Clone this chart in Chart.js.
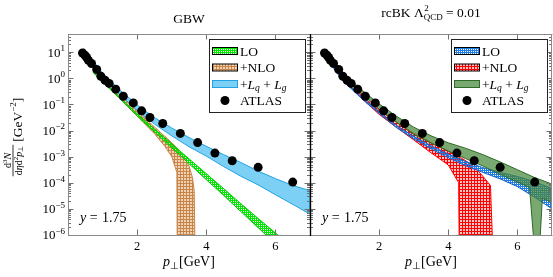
<!DOCTYPE html>
<html><head><meta charset="utf-8">
<script src="https://cdn.jsdelivr.net/npm/chart.js@4/dist/chart.umd.min.js"></script>
<style>
html,body{margin:0;padding:0;background:#fff;}
#wrap{position:relative;width:553px;height:277px;overflow:hidden;background:#fff;}
canvas{position:absolute;top:0;}
#c1{left:0;width:320px;height:277px;}
#c2{left:300px;width:253px;height:277px;}
</style></head><body>
<div id="wrap">
<canvas id="c1" width="320" height="277"></canvas>
<canvas id="c2" width="253" height="277"></canvas>
</div>
<script>
// ---------- data ----------
const atlasPt  = [0.42,0.49,0.54,0.59,0.68,0.83,0.95,1.07,1.19,1.38,1.6,1.89,2.13,2.37,2.74,3.25,3.75,4.25,4.75,5.5,6.5];
const atlasVal = [9.4,7.7,6.3,4.9,3.7,2.18,1.21,0.85,0.64,0.385,0.207,0.115,0.057,0.0318,0.0187,0.0078,0.00347,0.00137,6.95e-4,3.9e-4,1.06e-4];

// GBW panel
const gbwLOPt  = [0.73,1.0,1.5,2.0,2.5,3.0,3.5,4.0,4.5,5.0,5.5,6.0,6.5];
const gbwLOUp  = [1.78,0.79,0.19,0.0437,0.0115,3.1e-3,8.3e-4,2.24e-4,6.0e-5,1.58e-5,4.3e-6,1.2e-6,3.2e-7];
const gbwLOLow = [1.66,0.72,0.166,0.0363,0.0089,2.19e-3,5.4e-4,1.32e-4,3.3e-5,7.9e-6,1.9e-6,4.7e-7,1.26e-7];

const gbwNLOUpPt  = [1.3,1.5,2.0,2.5,2.8,3.0,3.15,3.3,3.5,3.6,3.65,3.68];
const gbwNLOUp    = [0.40,0.229,0.0562,0.0138,6.0e-3,3.47e-3,2.19e-3,1.26e-3,4.5e-4,1.58e-4,5.0e-5,1e-7];
const gbwNLOLowPt = [1.3,1.5,2.0,2.5,2.8,3.0,3.15,3.16];
const gbwNLOLow   = [0.33,0.174,0.0355,0.0076,2.5e-3,1.0e-3,2.5e-4,1e-7];

const gbwFullPt  = [0.45,0.6,0.8,1.0,1.5,2.08,2.5,3.0,3.5,4.0,4.5,5.0,5.5,6.0,6.5,7.0];
const gbwFullUp  = [14.1,8.3,3.55,1.58,0.355,0.079,0.0316,0.0126,5.4e-3,2.5e-3,1.2e-3,6.0e-4,2.8e-4,1.45e-4,7.9e-5,5.0e-5];
const gbwFullLow = [11.2,6.3,2.63,1.15,0.24,0.048,0.0178,6.3e-3,2.4e-3,1.05e-3,4.2e-4,1.78e-4,8.3e-5,3.5e-5,1.5e-5,6.3e-6];

// rcBK panel
const bkLOPt  = [0.68,1.0,1.5,2.0,2.5,3.0,3.5,4.0,4.5,5.0,5.5,6.0,6.5,7.0];
const bkLOUp  = [2.75,0.79,0.19,0.0525,0.0158,6.0e-3,2.63e-3,1.26e-3,6.6e-4,3.8e-4,2.5e-4,1.74e-4,1.1e-4,6.0e-5];
const bkLOLow = [2.4,0.69,0.166,0.0447,0.0132,4.8e-3,2.0e-3,9.1e-4,4.5e-4,2.5e-4,1.41e-4,7.1e-5,2.8e-5,1.0e-5];

const bkNLOUpPt  = [1.35,1.6,2.0,2.5,3.0,3.5,4.0,4.3,4.5,4.8,5.0,5.22,5.3];
const bkNLOUp    = [0.355,0.166,0.060,0.0209,7.9e-3,3.47e-3,1.58e-3,1.0e-3,7.1e-4,3.55e-4,1.78e-4,7.9e-5,1e-7];
const bkNLOLowPt = [1.35,1.6,2.0,2.5,3.0,3.5,4.0,4.3,4.32];
const bkNLOLow   = [0.28,0.126,0.0417,0.0132,4.4e-3,1.41e-3,4.8e-4,1.0e-4,1e-7];

const bkFullUpPt  = [0.5,0.68,1.0,1.5,2.0,2.5,3.0,3.5,4.0,4.5,5.0,5.5,6.0,6.5,7.0];
const bkFullUp    = [11.2,4.8,1.41,0.355,0.105,0.0355,0.0135,6.3e-3,3.4e-3,2.1e-3,1.2e-3,6.3e-4,3.16e-4,1.58e-4,8.9e-5];
const bkFullLowPt = [0.5,0.68,1.0,1.5,2.0,2.5,3.0,3.5,4.0,4.5,5.0,5.5,6.0,6.35,6.52,6.62,6.72,7.0];
const bkFullLow   = [8.9,3.55,1.05,0.25,0.066,0.0209,7.1e-3,3.3e-3,1.66e-3,8.5e-4,4.4e-4,2.1e-4,1.07e-4,6.6e-5,1e-7,1e-7,2.5e-5,1.78e-5];

// ticks and texts
const xTicks = [2,4,6];
const xTickLabels = ['2','4','6'];
const yTicks = [1e-6,1e-5,1e-4,1e-3,1e-2,1e-1,1,10];
const yTickExp = ['−6','−5','−4','−3','−2','−1','0','1'];
const seriesLabels = ['LO','+NLO','+Lq + Lg','ATLAS'];
const panelTitles = ['GBW','rcBK ΛQCD² = 0.01'];
const annotation = 'y = 1.75';

// ---------- helpers ----------
const FONT = '"Liberation Serif","Times New Roman",serif';
const fnt = (s,it)=> (it?'italic ':'')+s+'px '+FONT;
function richWidth(ctx, segs){let w=0;for(const s of segs){ctx.font=fnt(s.size,s.it);w+=ctx.measureText(s.t).width+(s.kern||0);}return w;}
function drawRich(ctx, segs, x, y, align){
  const w=richWidth(ctx,segs);
  let cx = align==='center'? x-w/2 : align==='right'? x-w : x;
  ctx.textAlign='left'; ctx.textBaseline='alphabetic';
  for(const s of segs){ctx.font=fnt(s.size,s.it);ctx.fillText(s.t,cx,y+(s.dy||0));cx+=ctx.measureText(s.t).width+(s.kern||0);}
  return w;
}
function tile(w,h,fn){const c=document.createElement('canvas');c.width=w;c.height=h;const x=c.getContext('2d');fn(x);return x.createPattern(c,'repeat');}
const patGreenDots = tile(2,2,x=>{x.fillStyle='#00e600';x.fillRect(0,0,2,2);x.clearRect(1,1,1,1);});
const patBlueDots  = tile(2,2,x=>{x.fillStyle='#1f7fe6';x.fillRect(0,0,2,2);x.clearRect(1,1,1,1);});
const patBrownGrid = tile(3,3,x=>{x.fillStyle='#f0d2b4';x.fillRect(0,0,3,3);x.fillStyle='#c8854a';x.fillRect(0,0,3,1);x.fillRect(0,0,1,3);});
const patRedGrid   = tile(3,3,x=>{x.fillStyle='#ffc4c4';x.fillRect(0,0,3,3);x.fillStyle='#ff0000';x.fillRect(0,0,3,1);x.fillRect(0,0,1,3);});

function band(upP, upV, lowP, lowV){
  const pts=[];
  upP.forEach((p,i)=>pts.push({x:p,y:upV[i]}));
  for(let i=lowP.length-1;i>=0;i--) pts.push({x:lowP[i],y:lowV[i]});
  return pts;
}
const atlasData = atlasPt.map((p,i)=>({x:p,y:atlasVal[i]}));

const legendLabelSegs = [
  [{t:'LO',size:13.5}],
  [{t:'+NLO',size:13.5}],
  [{t:'+',size:13.5},{t:'L',size:13.5,it:true},{t:'q',size:9.5,it:true,dy:2.5},{t:' + ',size:13.5},{t:'L',size:13.5,it:true},{t:'g',size:9.5,it:true,dy:2.5}],
  [{t:'ATLAS',size:13.5}]
];

function makeDecor(panel){
  return {
    id:'decor'+panel,
    afterDatasetsDraw(chart){
      const ctx=chart.ctx, a=chart.chartArea, xs=chart.scales.x, ys=chart.scales.y;
      ctx.save();
      // ticks
      ctx.strokeStyle='#707070'; ctx.lineWidth=1; ctx.beginPath();
      for(let e=-6;e<=1;e++){for(let k=1;k<=9;k++){
        const v=k*Math.pow(10,e); if(v>ys.max) continue;
        const yp=Math.round(ys.getPixelForValue(v))+0.5; const L=k===1?5.5:3;
        ctx.moveTo(a.left,yp);ctx.lineTo(a.left+L,yp);
        ctx.moveTo(a.right,yp);ctx.lineTo(a.right-L,yp);
      }}
      for(const t of xTicks){
        const xp=Math.round(xs.getPixelForValue(t))+0.5;
        ctx.moveTo(xp,a.bottom);ctx.lineTo(xp,a.bottom-5.5);
        ctx.moveTo(xp,a.top);ctx.lineTo(xp,a.top+5.5);
      }
      ctx.stroke();
      // frame
      ctx.strokeStyle='#8a8a8a'; ctx.beginPath();
      const L=a.left+0.5, R=a.right+0.5, T=a.top+0.5, B=a.bottom+0.5;
      ctx.moveTo(L,T);ctx.lineTo(R,T);ctx.moveTo(L,B);ctx.lineTo(R,B);
      if(panel===0){ctx.moveTo(L,T);ctx.lineTo(L,B);} else {ctx.moveTo(R-1,T);ctx.lineTo(R-1,B);}
      ctx.stroke();
      ctx.strokeStyle='#000'; ctx.lineWidth=1.2; ctx.beginPath();
      if(panel===0){ctx.moveTo(R,a.top);ctx.lineTo(R,a.bottom+1);} else {ctx.moveTo(L,a.top);ctx.lineTo(L,a.bottom+1);}
      ctx.stroke();
      ctx.lineWidth=1;
      ctx.fillStyle='#000';
      // x tick labels
      xTicks.forEach((t,i)=>{drawRich(ctx,[{t:xTickLabels[i],size:12.5}],xs.getPixelForValue(t),a.bottom+15,'center');});
      // y tick labels
      if(panel===0){
        yTicks.forEach((v,i)=>{const yp=ys.getPixelForValue(v);
          drawRich(ctx,[{t:'10',size:13},{t:yTickExp[i],size:9,dy:-5.5}],a.left-3,yp+4.4,'right');});
        // y axis title
        ctx.save(); ctx.translate(13,137); ctx.rotate(-Math.PI/2);
        const num=[{t:'d',size:10},{t:'3',size:7,dy:-4},{t:'N',size:10,it:true}];
        const den=[{t:'d',size:10},{t:'η',size:10,it:true},{t:'d',size:10},{t:'2',size:7,dy:-4},{t:'p',size:10,it:true},{t:'⊥',size:7,dy:1.5}];
        const br=[{t:'[GeV',size:13.5},{t:'−2',size:9,dy:-5.5},{t:']',size:13.5}];
        const fw=Math.max(richWidth(ctx,num),richWidth(ctx,den))+2;
        const bw=richWidth(ctx,br);
        const tot=fw+3+bw; const u0=-tot/2;
        ctx.fillRect(u0,-0.4,fw,0.8);
        drawRich(ctx,num,u0+fw/2,-2,'center');
        drawRich(ctx,den,u0+fw/2,8.5,'center');
        drawRich(ctx,br,u0+fw+3,8.5,'left');
        ctx.restore();
      }
      // title
      const cx=(a.left+a.right)/2;
      if(panel===0){
        drawRich(ctx,[{t:panelTitles[0],size:13.5}],cx,22.5,'center');
      } else {
        ctx.font=fnt(13.5); const w1=ctx.measureText('rcBK Λ').width;
        ctx.font=fnt(9); const ws=Math.max(ctx.measureText('2').width,ctx.measureText('QCD').width);
        ctx.font=fnt(13.5); const w3=ctx.measureText(' = 0.01').width;
        let x0=cx-(w1+ws+w3)/2;
        ctx.textAlign='left';ctx.textBaseline='alphabetic';
        ctx.font=fnt(13.5); ctx.fillText('rcBK Λ',x0,16.5);
        ctx.font=fnt(9); ctx.fillText('2',x0+w1+0.5,11); ctx.fillText('QCD',x0+w1,20);
        ctx.font=fnt(13.5); ctx.fillText(' = 0.01',x0+w1+ws,16.5);
      }
      // x axis title
      drawRich(ctx,[{t:'p',size:14,it:true},{t:'⊥',size:9.5,dy:3},{t:'[GeV]',size:14}],cx,266,'center');
      // annotation
      drawRich(ctx,[{t:'y',size:14,it:true},{t:' = ',size:14,kern:1},{t:'1.75',size:14}],a.left+12,222,'left');
      // legend
      const bx=a.right-5-96, by=a.top+5, bwid=96, bh=73;
      ctx.fillStyle='#fff'; ctx.fillRect(bx,by,bwid,bh);
      ctx.strokeStyle='#222'; ctx.strokeRect(bx+0.5,by+0.5,bwid,bh);
      const ds=chart.data.datasets;
      for(let i=0;i<4;i++){
        const cy=by+12+i*16.5;
        const d=ds[i];
        if(i<3){
          ctx.fillStyle=d.backgroundColor; ctx.fillRect(bx+3.5,cy-3.5,25,7);
          ctx.strokeStyle= i<2 ? '#000' : d.borderColor; ctx.strokeRect(bx+3.5,cy-3.5,25,7);
        } else {
          ctx.fillStyle='#000'; ctx.beginPath(); ctx.arc(bx+16,cy,4.5,0,Math.PI*2); ctx.fill();
        }
        ctx.fillStyle='#000';
        drawRich(ctx,legendLabelSegs[i],bx+31,cy+4.5,'left');
      }
      ctx.restore();
    }
  };
}

function baseOptions(pad){
  return {
    responsive:false, animation:false, devicePixelRatio:1,
    layout:{padding:pad, autoPadding:false},
    scales:{
      x:{type:'linear',min:0,max:7,display:false},
      y:{type:'logarithmic',min:1e-6,max:50,display:false}
    },
    plugins:{legend:{display:false},tooltip:{enabled:false},filler:{propagate:false}},
    elements:{line:{tension:0},point:{radius:0}}
  };
}
function bandDs(label,data,bg,border,order){
  return {label,data,fill:'shape',backgroundColor:bg,borderColor:border,borderWidth:1,pointRadius:0,order};
}
const atlasDs = ()=>({label:'ATLAS',data:atlasData,showLine:false,pointRadius:4.5,pointBackgroundColor:'#000',pointBorderColor:'#000',pointBorderWidth:0,backgroundColor:'#000',borderColor:'#000',fill:false,order:0});

new Chart(document.getElementById('c1'),{
  type:'line',
  data:{datasets:[
    bandDs(seriesLabels[0],band(gbwLOPt,gbwLOUp,gbwLOPt,gbwLOLow),patGreenDots,'#00c800',2),
    bandDs(seriesLabels[1],band(gbwNLOUpPt,gbwNLOUp,gbwNLOLowPt,gbwNLOLow),patBrownGrid,'#c8854a',3),
    bandDs(seriesLabels[2],band(gbwFullPt,gbwFullUp,gbwFullPt,gbwFullLow),'rgb(124,208,245)','#22a2e2',1),
    atlasDs()
  ]},
  options:baseOptions({left:68,right:10,top:34,bottom:42}),
  plugins:[makeDecor(0)]
});
new Chart(document.getElementById('c2'),{
  type:'line',
  data:{datasets:[
    bandDs(seriesLabels[0],band(bkLOPt,bkLOUp,bkLOPt,bkLOLow),patBlueDots,'#1565d0',2),
    bandDs(seriesLabels[1],band(bkNLOUpPt,bkNLOUp,bkNLOLowPt,bkNLOLow),patRedGrid,'#ff0000',3),
    bandDs(seriesLabels[2],band(bkFullUpPt,bkFullUp,bkFullLowPt,bkFullLow),'rgba(70,135,58,0.72)','#2d6a28',1),
    atlasDs()
  ]},
  options:baseOptions({left:10,right:1,top:34,bottom:42}),
  plugins:[makeDecor(1)]
});
</script>
</body></html>
